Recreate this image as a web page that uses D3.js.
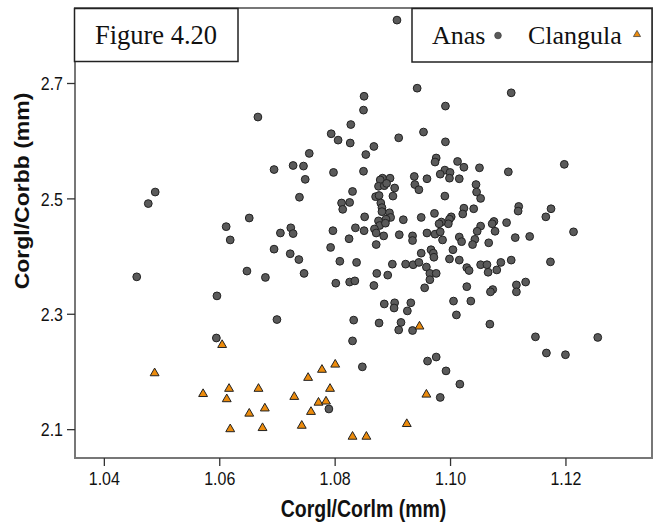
<!DOCTYPE html>
<html><head><meta charset="utf-8">
<script src="https://cdn.jsdelivr.net/npm/d3@7"></script>
<style>body{margin:0;background:#fff}svg{display:block}</style>
</head><body>
<svg id="c" width="660" height="527"></svg>
<script>
const anasX = [1.0908,1.0667,1.0794,1.0806,1.0828,1.0827,1.0756,1.0695,1.0728,1.0746,1.0749,1.0798,1.0831,1.0739,1.0489,1.0477,1.0812,1.0826,1.0814,1.0652,1.0612,1.0619,1.0724,1.0706,1.0728,1.0797,1.0836,1.0825,1.0695,1.0723,1.0738,1.0793,1.0809,1.0838,1.0648,1.0680,1.0747,1.0457,1.0802,1.0826,1.0835,
1.0851,1.0850,1.0943,1.1106,1.0992,1.0954,1.0911,1.0992,1.0868,1.0854,1.0850,1.0976,1.0974,1.1013,1.1024,1.1051,1.1198,1.1101,1.0991,1.1000,1.0983,1.0999,1.1016,1.0960,1.0938,1.0939,1.0946,1.0883,1.0896,1.0879,1.0876,1.0886,1.0890,1.0904,1.0901,1.0871,1.0877,1.0880,1.0882,1.0882,1.0895,1.0897,1.0889,1.0852,1.0851,1.0876,1.0878,1.0869,1.0872,1.0885,1.0888,1.0872,1.0912,1.0919,1.0950,1.0973,1.0991,1.1002,1.0999,1.0997,1.0985,1.0981,1.1024,1.1022,1.1041,1.1045,1.1046,1.1053,1.0935,1.0935,1.0960,1.0974,1.0983,1.0987,1.1016,1.1020,1.1043,1.1039,1.1053,1.1047,1.1076,1.1073,1.1078,1.1067,1.1098,1.1113,1.1119,1.1118,1.1138,1.1166,1.1175,1.1214,1.0950,1.0967,1.0971,1.0972,1.1005,1.0999,1.1016,1.0900,1.0923,1.0936,1.0946,1.0959,1.0965,1.0976,1.0965,1.0873,1.0892,1.0868,1.0956,1.1029,1.1033,1.1053,1.1064,1.1066,1.1081,1.1088,1.1106,1.1029,1.1074,1.1115,1.1131,1.1174,
1.1070,1.1115,1.0886,1.0904,1.0903,1.0932,1.0926,1.1006,1.1036,1.1011,1.0877,1.0915,1.0911,1.0935,1.1069,1.1148,1.1256,1.1167,1.1200,1.0848,1.0961,1.0976,1.0993,1.1017,1.0983,
1.0596,1.0700,1.0833,1.0595,1.0831,1.0790];
const anasY = [2.809,2.641,2.612,2.601,2.628,2.596,2.578,2.550,2.557,2.556,2.533,2.545,2.512,2.502,2.511,2.491,2.492,2.493,2.481,2.466,2.451,2.428,2.449,2.440,2.439,2.444,2.449,2.430,2.412,2.404,2.394,2.415,2.391,2.389,2.374,2.363,2.370,2.364,2.353,2.355,2.357,
2.677,2.653,2.691,2.683,2.660,2.615,2.605,2.598,2.590,2.576,2.547,2.570,2.563,2.564,2.554,2.553,2.559,2.546,2.549,2.545,2.542,2.535,2.534,2.534,2.538,2.524,2.515,2.535,2.535,2.532,2.521,2.522,2.526,2.518,2.504,2.503,2.505,2.492,2.484,2.477,2.475,2.467,2.464,2.468,2.444,2.461,2.453,2.447,2.440,2.435,2.457,2.420,2.437,2.463,2.467,2.474,2.504,2.468,2.464,2.456,2.459,2.456,2.483,2.473,2.482,2.524,2.511,2.500,2.435,2.427,2.440,2.438,2.442,2.428,2.433,2.425,2.429,2.420,2.452,2.443,2.460,2.456,2.443,2.423,2.458,2.432,2.486,2.478,2.434,2.468,2.482,2.442,2.405,2.411,2.405,2.398,2.411,2.395,2.393,2.386,2.386,2.385,2.389,2.381,2.370,2.370,2.359,2.370,2.367,2.349,2.345,2.380,2.375,2.385,2.385,2.372,2.376,2.389,2.393,2.347,2.342,2.350,2.355,2.390,
2.338,2.338,2.317,2.319,2.310,2.319,2.305,2.322,2.322,2.298,2.284,2.285,2.272,2.271,2.282,2.260,2.259,2.232,2.229,2.208,2.218,2.225,2.201,2.178,2.155,
2.331,2.290,2.289,2.258,2.253,2.135];
const clangulaX = [1.0488,1.0605,1.0572,1.0617,1.0613,1.0619,1.0652,1.0668,1.0679,1.0675,1.0730,1.0743,1.0754,1.0759,1.0772,1.0778,1.0785,1.0792,1.0801,1.0831,1.0855,1.0925,1.0947,1.0959];
const clangulaY = [2.197,2.246,2.161,2.170,2.152,2.100,2.127,2.170,2.136,2.102,2.156,2.106,2.189,2.130,2.146,2.203,2.148,2.170,2.212,2.087,2.087,2.109,2.278,2.160];
const xTicks = [1.04,1.06,1.08,1.10,1.12];
const yTicks = [2.1,2.3,2.5,2.7];
const seriesNames = ["Anas","Clangula"];
const titleText = "Figure 4.20";
const xTitle = "Corgl/Corlm (mm)";
const yTitle = "Corgl/Corbb (mm)";

const svg = d3.select("#c");
const L=75,R=652,T=8,B=458;
const SY = 1.18; // vertical stretch of sans text in the reference
const x = d3.scaleLinear().domain([1.035,1.135]).range([L,R]);
const y = d3.scaleLinear().domain([2.05,2.83]).range([B,T]);
const sans = "'Liberation Sans',Arial,sans-serif";

const axisCol = "#777";
svg.append("rect").attr("x",L).attr("y",T).attr("width",R-L).attr("height",B-T)
  .attr("fill","#fff").attr("stroke",axisCol).attr("stroke-width",2);

const xa = svg.append("g").attr("transform",`translate(0,${B})`)
  .call(d3.axisBottom(x).tickValues(xTicks).tickFormat(d3.format(".2f")).tickSize(8));
const ya = svg.append("g").attr("transform",`translate(${L},0)`)
  .call(d3.axisLeft(y).tickValues(yTicks).tickFormat(d3.format(".1f")).tickSize(8));
[xa,ya].forEach(g=>{
  g.select(".domain").remove();
  g.selectAll(".tick line").attr("stroke","#333").attr("stroke-width",1.3);
  g.selectAll(".tick text").attr("font-family",sans).attr("font-size",16).attr("fill","#111")
    .attr("x",0).attr("y",0).attr("dy",0);
});
xa.selectAll(".tick text").attr("text-anchor","middle").attr("transform",`translate(0,27) scale(1,${SY})`);
ya.selectAll(".tick text").attr("text-anchor","end").attr("transform",`translate(-12,6.8) scale(1,${SY})`);

const pts = svg.append("g");
pts.selectAll("circle").data(d3.range(anasX.length)).join("circle")
  .attr("cx",i=>x(anasX[i])).attr("cy",i=>y(anasY[i])).attr("r",3.9)
  .attr("fill","#5a5a5a").attr("stroke","#222").attr("stroke-width",1);
const tri = d3.symbol(d3.symbolTriangle).size(34);
pts.selectAll("path").data(d3.range(clangulaX.length)).join("path")
  .attr("d",tri).attr("transform",i=>`translate(${x(clangulaX[i])},${y(clangulaY[i])})`)
  .attr("fill","#ec8b0c").attr("stroke","#222").attr("stroke-width",1);

// title box
svg.append("rect").attr("x",74.5).attr("y",8.5).attr("width",163.5).attr("height",53)
  .attr("fill","#fff").attr("stroke","#222").attr("stroke-width",1.5);
svg.append("text").attr("x",156).attr("y",43.5).attr("text-anchor","middle")
  .attr("font-family","'Liberation Serif','Times New Roman',serif").attr("font-size",26.5).attr("fill","#111").text(titleText);

// legend box
svg.append("rect").attr("x",412).attr("y",8.5).attr("width",240).attr("height",53.5)
  .attr("fill","#fff").attr("stroke","#222").attr("stroke-width",1.5);
const lf = "'Liberation Serif','Times New Roman',serif";
svg.append("text").attr("x",432).attr("y",43.5).attr("font-family",lf).attr("font-size",26).attr("fill","#111").text(seriesNames[0]);
svg.append("circle").attr("cx",498).attr("cy",35.5).attr("r",3.3).attr("fill","#5a5a5a").attr("stroke","#444").attr("stroke-width",0.8);
svg.append("text").attr("x",528).attr("y",43.5).attr("font-family",lf).attr("font-size",26).attr("fill","#111").text(seriesNames[1]);
svg.append("path").attr("d",d3.symbol(d3.symbolTriangle).size(22)).attr("transform","translate(637,34.5)")
  .attr("fill","#ec8b0c").attr("stroke","#444").attr("stroke-width",0.8);

// axis titles
svg.append("text").attr("transform",`translate(${(L+R)/2},517) scale(1,${SY})`).attr("text-anchor","middle")
  .attr("font-family",sans).attr("font-weight","bold").attr("font-size",19.5).attr("fill","#111").text(xTitle);
svg.append("text").attr("transform",`translate(29,191) scale(1,${SY}) rotate(-90)`).attr("text-anchor","middle")
  .attr("font-family",sans).attr("font-weight","bold").attr("font-size",19.5).attr("fill","#111").text(yTitle);
</script>
</body></html>
